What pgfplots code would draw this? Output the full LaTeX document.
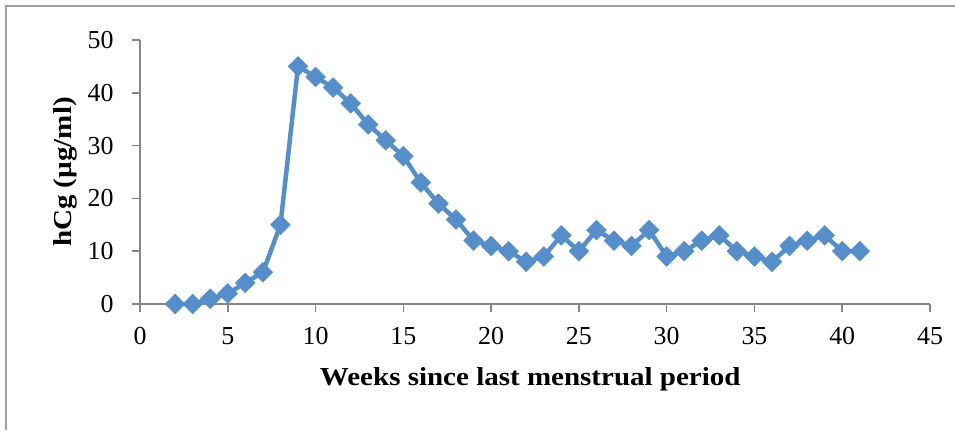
\documentclass[border=0pt]{standalone}
\usepackage{fontspec}
\setmainfont{Liberation Serif}
\newfontfamily\labfont[FakeStretch=1.12]{Liberation Serif}
\usepackage{pgfplots}
\pgfplotsset{compat=1.18}
\definecolor{ser}{RGB}{85,142,201}
\definecolor{axgray}{RGB}{134,134,134}
\definecolor{framegray}{RGB}{160,160,160}
\begin{document}
\begin{tikzpicture}[x=1bp,y=1bp]
\useasboundingbox (0,0) rectangle (955,430);
\draw[framegray, line width=1.5bp] (6,0) -- (6,424) -- (955,424);
\begin{axis}[
  at={(140bp,126bp)}, anchor=south west,
  scale only axis, width=790bp, height=264bp,
  xmin=0, xmax=45, ymin=0, ymax=50,
  xtick={0,5,...,45}, ytick={0,10,...,50},
  axis x line*=bottom, axis y line*=left,
  axis line style={axgray, line width=1.5bp},
  tick style={axgray, line width=1.5bp},
  tick align=outside, major tick length=8bp,
  clip=false,
  font=\fontsize{26}{30}\selectfont,
  /pgf/number format/assume math mode=true,
  xticklabel style={yshift=-12bp},
  yticklabel style={xshift=-15bp},
  xlabel={\labfont\bfseries Weeks since last menstrual period},
  ylabel={\labfont\bfseries hCg (µg/ml)},
  xlabel style={at={(axis description cs:0.494,-0.307)}, anchor=base},
  ylabel style={at={(axis description cs:-0.0873,0.5)}, anchor=base, rotate=0},
]
\addplot[ser, line width=4.5bp, line join=round, mark=square*, mark size=7bp,
  mark options={rotate=45, solid, fill=ser, draw=ser, line width=0.5bp}]
coordinates {
(2,0) (3,0) (4,1) (5,2) (6,4) (7,6) (8,15) (9,45) (10,43) (11,41)
(12,38) (13,34) (14,31) (15,28) (16,23) (17,19) (18,16) (19,12) (20,11) (21,10)
(22,8) (23,9) (24,13) (25,10) (26,14) (27,12) (28,11) (29,14) (30,9) (31,10)
(32,12) (33,13) (34,10) (35,9) (36,8) (37,11) (38,12) (39,13) (40,10) (41,10)
};
\end{axis}
\end{tikzpicture}
\end{document}
